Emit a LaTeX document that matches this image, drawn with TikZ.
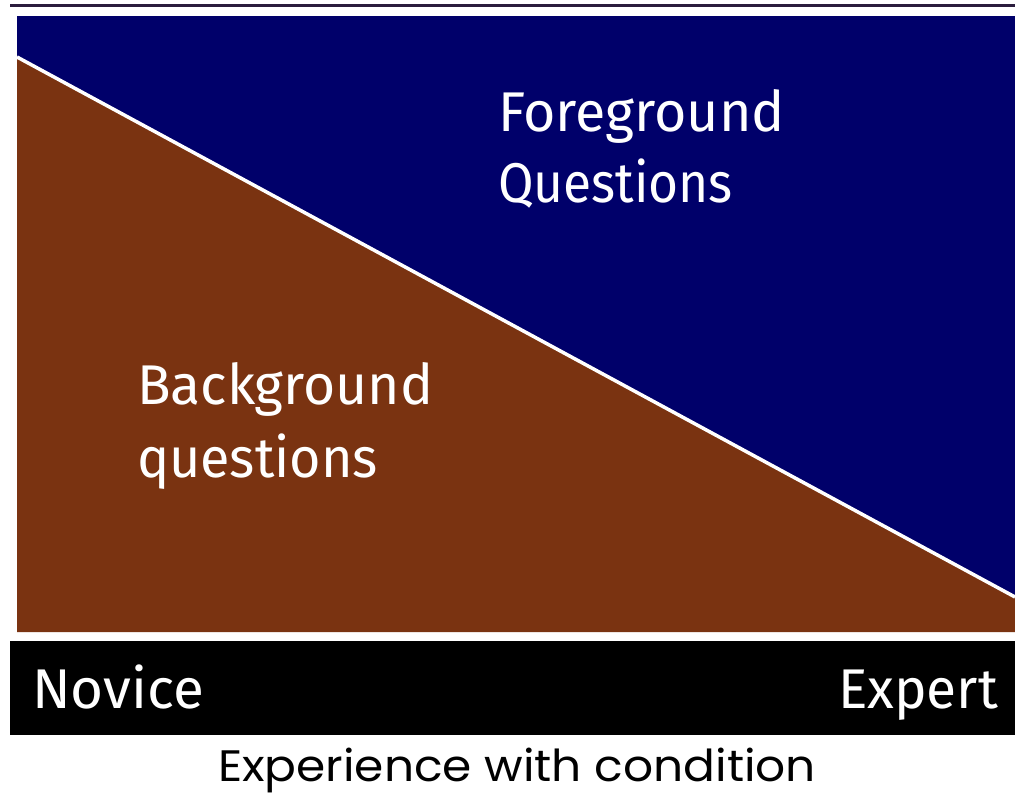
\documentclass[tikz,border=0pt]{standalone}
\usepackage{fontspec}
\usepackage{graphicx}
\setmainfont{Fira Sans}
\newfontfamily\capfont{Poppins}
\definecolor{navy}{HTML}{00006A}
\definecolor{rust}{HTML}{7A3311}
\definecolor{topline}{HTML}{2B1D3D}
\tikzset{
  lbl/.style={anchor=base west, inner sep=0pt, outer sep=0pt, text=white, font=\fontsize{56}{56}\selectfont},
  captxt/.style={anchor=base west, inner sep=0pt, outer sep=0pt, text=black, font=\capfont\fontsize{44}{44}\selectfont}
}
\begin{document}
\begin{tikzpicture}[x=1pt,y=-1pt]
\useasboundingbox (0,0) rectangle (1015,799);
\fill[white] (0,0) rectangle (1015,799);
\fill[topline] (10,4) rectangle (1015,7.5);
\fill[navy] (17,16) rectangle (1015,632);
\coordinate (dl) at (17,57);
\coordinate (dr) at (1015,597);
\fill[rust] (dl) -- (dr) -- (1015,632) -- (17,632) -- cycle;
\draw[white, line width=3.5pt] (dl) -- (dr);
\fill[black] (10,641) rectangle (1015,735);
\node[lbl] (fg) at (498,132) {\resizebox{287pt}{\height}{Foreground}};
\node[lbl] (fq) at (498,203) {\resizebox{235pt}{\height}{Questions}};
\node[lbl] (bg) at (137,405) {\resizebox{296pt}{\height}{Background}};
\node[lbl] (bq) at (137,477) {\resizebox{241pt}{\height}{questions}};
\node[lbl] (nov) at (32,708) {\resizebox{172pt}{\height}{Novice}};
\node[lbl] (exp) at (838,708) {\resizebox{160pt}{\height}{Expert}};
\node[captxt] (ttl) at (218,781) {\resizebox{598pt}{\height}{Experience with condition}};
\end{tikzpicture}
\end{document}
